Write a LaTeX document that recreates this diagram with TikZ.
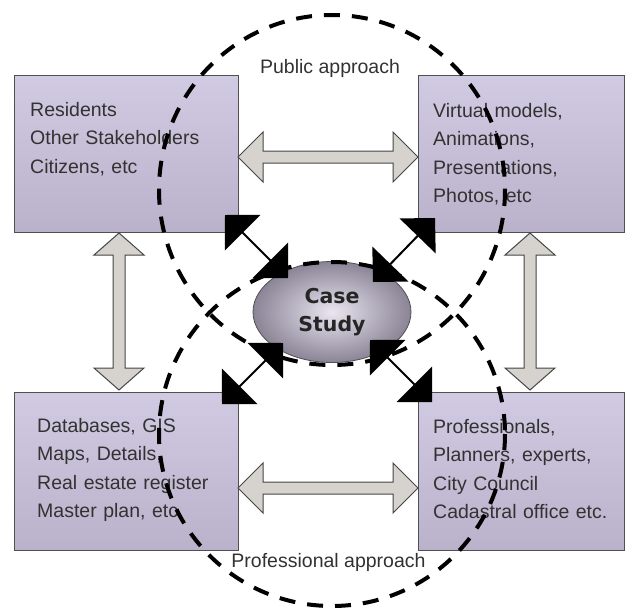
\documentclass[tikz,border=0pt]{standalone}
\usepackage{fontspec}
\setmainfont{Liberation Sans}
\newfontfamily\csfont{DejaVu Sans}
\usetikzlibrary{arrows.meta,shapes.geometric,calc}
\definecolor{boxtop}{RGB}{208,202,226}
\definecolor{boxbot}{RGB}{186,178,202}
\definecolor{boxline}{RGB}{80,80,80}
\definecolor{arrfill}{RGB}{214,210,206}
\definecolor{arrline}{RGB}{70,70,70}
\definecolor{txt}{RGB}{50,50,50}
\definecolor{csin}{RGB}{234,230,240}
\definecolor{csout}{RGB}{138,132,150}
\begin{document}
\begin{tikzpicture}[x=1pt,y=-1pt,
  box/.style={draw=boxline, line width=1pt, top color=boxtop, bottom color=boxbot,
    inner sep=0pt, minimum height=157pt, anchor=north west},
  boxtext/.style={anchor=base west, inner sep=0pt, text width=205pt, align=left,
    text=txt, font=\fontsize{19.5}{28.5}\selectfont},
  lbl/.style={anchor=base, inner sep=0pt, text=txt, font=\fontsize{19.5}{24}\selectfont},
  bigarrow/.style={fill=arrfill, draw=arrline, line width=1pt, line join=miter},
  diag/.style={line width=2pt, arrows={{Triangle[length=25pt,width=50pt]}-{Triangle[length=25pt,width=50pt]}}},
  dashc/.style={draw=black, line width=4pt, dash pattern=on 16pt off 12pt},
  csnode/.style={ellipse, draw=boxline, line width=0.8pt, inner color=csin, outer color=csout,
    minimum width=158pt, minimum height=101pt, inner sep=0pt, align=center, text=black!85,
    font=\csfont\bfseries\fontsize{20.5}{28}\selectfont}
]
\useasboundingbox (0,0) rectangle (632,608);

% boxes
\node[box, minimum width=224pt] (tl) at (14,75) {};
\node[box, minimum width=206pt] (tr) at (418,75) {};
\node[box, minimum width=224pt, minimum height=158pt] (bl) at (14,392) {};
\node[box, minimum width=206pt, minimum height=158pt] (br) at (418,392) {};

\node[boxtext] (tltext) at (30,116) {Residents\\Other Stakeholders\\Citizens, etc};
\node[boxtext] (trtext) at (433,117) {Virtual models,\\Animations,\\Presentations,\\Photos, etc};
\node[boxtext] (bltext) at (37,432) {Databases, GIS\\Maps, Details,\\Real estate register\\Master plan, etc.};
\node[boxtext] (brtext) at (433,433) {Professionals,\\Planners, experts,\\City Council\\Cadastral office etc.};

% double arrows
\coordinate (ht1) at (238,157); \coordinate (ht2) at (418,157);
\coordinate (hb1) at (238,488); \coordinate (hb2) at (418,488);
\coordinate (vl1) at (119,233); \coordinate (vl2) at (119,390);
\coordinate (vr1) at (530,233); \coordinate (vr2) at (530,390);

\foreach \a/\b in {ht1/ht2, hb1/hb2}{
  \draw[bigarrow] (\a) -- ++(25,-25) -- ++(0,19) -- ($(\b)+(-25,-6)$) -- ++(0,-19) -- (\b)
    -- ++(-25,25) -- ++(0,-19) -- ($(\a)+(25,6)$) -- ++(0,19) -- cycle;
}
\foreach \a/\b in {vl1/vl2, vr1/vr2}{
  \draw[bigarrow] (\a) -- ++(25,22) -- ++(-19,0) -- ($(\b)+(6,-22)$) -- ++(19,0) -- (\b)
    -- ++(-25,-22) -- ++(19,0) -- ($(\a)+(-6,22)$) -- ++(-19,0) -- cycle;
}

% case study
\node[csnode] (cs) at (332,312) {Case\\Study};

% dashed approach circles
\draw[dashc] (332,190) ellipse[x radius=173, y radius=175];
\draw[dashc] (332,434) ellipse[x radius=173, y radius=172];

% diagonal arrows
\coordinate (d1a) at (225,215); \coordinate (d1b) at (288,278);
\coordinate (d2a) at (435,218); \coordinate (d2b) at (373,282);
\coordinate (d3a) at (283,343); \coordinate (d3b) at (222,404);
\coordinate (d4a) at (370,340); \coordinate (d4b) at (432,402);
\draw[diag] (d1a) -- (d1b);
\draw[diag] (d2a) -- (d2b);
\draw[diag] (d3a) -- (d3b);
\draw[diag] (d4a) -- (d4b);

% labels
\node[lbl] (pub) at (330,73) {Public approach};
\node[lbl] (prof) at (328.5,567) {Professional approach};
\end{tikzpicture}
\end{document}
